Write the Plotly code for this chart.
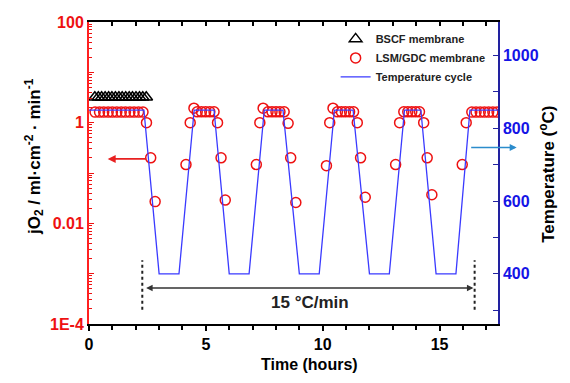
import plotly.graph_objects as go

# ---------------- data ----------------
bscf_time = [0.25, 0.40, 0.54, 0.69, 0.84, 0.98, 1.13, 1.28, 1.42, 1.57, 1.72, 1.86, 2.01, 2.16, 2.30, 2.45]
bscf_flux = [3.2] * len(bscf_time)

lsm_time = [0.26, 0.45, 0.63, 0.82, 1.00, 1.19, 1.38, 1.56, 1.75, 1.93, 2.12, 2.31,
            2.46, 2.64, 2.83,
            4.15, 4.33, 4.49, 4.63, 4.81, 4.99, 5.17, 5.35, 5.50, 5.65, 5.83,
            7.16, 7.31, 7.45, 7.66, 7.83, 8.00, 8.17, 8.35, 8.52, 8.63, 8.85,
            10.16, 10.30, 10.44, 10.63, 10.80, 10.97, 11.15, 11.32, 11.48, 11.62, 11.82,
            13.12, 13.29, 13.47, 13.64, 13.81, 13.98, 14.14, 14.32, 14.47, 14.67,
            15.97, 16.14, 16.38, 16.56, 16.74, 16.92, 17.10, 17.28, 17.46]
lsm_flux = [1.62, 1.62, 1.62, 1.62, 1.62, 1.62, 1.62, 1.62, 1.62, 1.62, 1.62, 1.62,
            1.0, 0.2, 0.027,
            0.147, 1.0, 1.94, 1.64, 1.64, 1.64, 1.64, 1.64, 1.0, 0.2, 0.029,
            0.147, 1.0, 1.94, 1.64, 1.64, 1.64, 1.64, 1.64, 0.97, 0.2, 0.026,
            0.14, 1.0, 1.94, 1.64, 1.64, 1.64, 1.64, 1.64, 1.0, 0.2, 0.033,
            0.147, 1.0, 1.64, 1.64, 1.64, 1.64, 1.64, 1.0, 0.2, 0.037,
            0.147, 1.0, 1.62, 1.62, 1.62, 1.62, 1.62, 1.62, 1.62]

temp_time = [0, 2.35, 3.0, 3.85, 4.5, 5.35, 6.0, 6.85, 7.5, 8.3, 9.0, 9.85,
             10.5, 11.3, 12.0, 12.85, 13.5, 14.2, 14.85, 15.7, 16.3, 17.5]
temp_vals = [850, 850, 400, 400, 850, 850, 400, 400, 850, 850, 400, 400,
             850, 850, 400, 400, 850, 850, 400, 400, 850, 850]

flux_tickvals = [1e-4, 1e-3, 1e-2, 1e-1, 1, 10, 100]
flux_ticktext = ["1E-4", "", "0.01", "", "1", "", "100"]

RED = "#ee1111"
BLUE_TXT = "#1414e6"
BLUE_AX = "#2222a0"
LINE_BLUE = "#3a3aff"

fig = go.Figure()

fig.add_trace(go.Scatter(
    x=bscf_time, y=bscf_flux, mode="markers", name="BSCF membrane",
    marker=dict(symbol="triangle-up-open", size=11, color="black", line=dict(width=1.5, color="black")),
))
fig.add_trace(go.Scatter(
    x=lsm_time, y=lsm_flux, mode="markers", name="LSM/GDC membrane",
    marker=dict(symbol="circle-open", size=10, color=RED, line=dict(width=1.5, color=RED)),
))
fig.add_trace(go.Scatter(
    x=temp_time, y=temp_vals, mode="lines", name="Temperature cycle", yaxis="y2",
    line=dict(color=LINE_BLUE, width=1.3),
))
# empty trace to realise the top (mirror) axis with inside ticks
fig.add_trace(go.Scatter(x=[], y=[], xaxis="x2", yaxis="y", showlegend=False, hoverinfo="skip"))

minor_log = [m * 10 ** e for e in range(-4, 2) for m in range(2, 10)]

tickfont = dict(family="Liberation Sans, Arial", size=16, weight="bold")

fig.update_layout(
    width=570, height=383,
    margin=dict(l=89, r=72, t=22, b=59),
    paper_bgcolor="white", plot_bgcolor="white",
    showlegend=True,
    legend=dict(x=0.603, y=0.992, xanchor="left", yanchor="top",
                font=dict(family="Liberation Sans, Arial", size=11, weight="bold", color="#222"),
                bgcolor="rgba(0,0,0,0)", itemwidth=30, tracegroupgap=0),
    xaxis=dict(
        range=[0, 17.5], dtick=5, tick0=0, ticks="outside", ticklen=5, tickwidth=1.5,
        tickcolor="black", showline=True, linecolor="black", linewidth=1.5,
        showgrid=False, zeroline=False, tickfont=dict(color="black", **tickfont),
        minor=dict(dtick=1, ticks="outside", ticklen=4, tickwidth=1.5, tickcolor="black", showgrid=False),
    ),
    xaxis2=dict(
        range=[0, 17.5], overlaying="x", side="top", dtick=1, ticks="inside", ticklen=4,
        tickwidth=1.5, tickcolor="black", showline=True, linecolor="black", linewidth=2,
        showticklabels=False, showgrid=False, zeroline=False,
    ),
    yaxis=dict(
        type="log", range=[-4, 2], tickvals=flux_tickvals, ticktext=flux_ticktext,
        ticks="inside", ticklen=5, tickwidth=1.2, tickcolor=RED,
        showline=True, linecolor="#ff2020", linewidth=2, showgrid=False, zeroline=False,
        tickfont=dict(color=RED, **tickfont),
        minor=dict(tickvals=minor_log, ticks="inside", ticklen=3, tickwidth=1, tickcolor=RED, showgrid=False),
    ),
    yaxis2=dict(
        overlaying="y", side="right", range=[262, 1092], dtick=200, tick0=0,
        ticks="inside", ticklen=5, tickwidth=1.2, tickcolor=BLUE_AX,
        showline=True, linecolor=BLUE_AX, linewidth=1.5, showgrid=False, zeroline=False,
        tickfont=dict(color=BLUE_TXT, **tickfont),
        minor=dict(dtick=100, ticks="inside", ticklen=5, tickwidth=1.2, tickcolor=BLUE_AX, showgrid=False),
    ),
    shapes=[
        dict(type="line", xref="x", yref="y2", x0=2.28, x1=2.28, y0=301, y1=437,
             line=dict(color="#222", width=2, dash="dot")),
        dict(type="line", xref="x", yref="y2", x0=16.5, x1=16.5, y0=301, y1=437,
             line=dict(color="#222", width=2, dash="dot")),
    ],
    annotations=[
        # red arrow pointing to left axis
        dict(x=0.8, y=-0.72, xref="x", yref="y", ax=40, ay=0, axref="pixel", ayref="pixel",
             text="", showarrow=True, arrowhead=2, arrowsize=1, arrowwidth=1.6, arrowcolor="#e82020"),
        # blue arrow pointing to right axis
        dict(x=1.0457, y=747, xref="paper", yref="y2", ax=-47, ay=0,
             text="", showarrow=True, arrowhead=2, arrowsize=1, arrowwidth=1.4, arrowcolor="#2b8ccc"),
        # double arrow
        dict(x=16.45, y=361, xref="x", yref="y2", ax=2.38, ay=361, axref="x", ayref="y2",
             text="", showarrow=True, arrowhead=2, startarrowhead=2, arrowside="end+start",
             arrowsize=1, arrowwidth=1.3, arrowcolor="#333"),
        dict(x=9.45, y=321, xref="x", yref="y2", text="15 °C/min", showarrow=False,
             font=dict(family="Liberation Sans, Arial", size=17, weight="bold", color="#222")),
        # axis titles
        dict(x=0.540, y=-0.168, xref="paper", yref="paper", text="Time (hours)", showarrow=False,
             font=dict(family="Liberation Sans, Arial", size=16, weight="bold", color="black")),
        dict(x=-0.169, y=0.554, xref="paper", yref="paper", textangle=-90, showarrow=False,
             text="jO<sub>2</sub> / ml·cm<sup>-2</sup> · min<sup>-1</sup>",
             font=dict(family="Liberation Sans, Arial", size=17, weight="bold", color="black")),
        dict(x=1.1516, y=0.494, xref="paper", yref="paper", textangle=-90, showarrow=False,
             text="Temperature (<sup>o</sup>C)",
             font=dict(family="Liberation Sans, Arial", size=17, weight="bold", color="black")),
    ],
)

fig.write_html("out.html")
